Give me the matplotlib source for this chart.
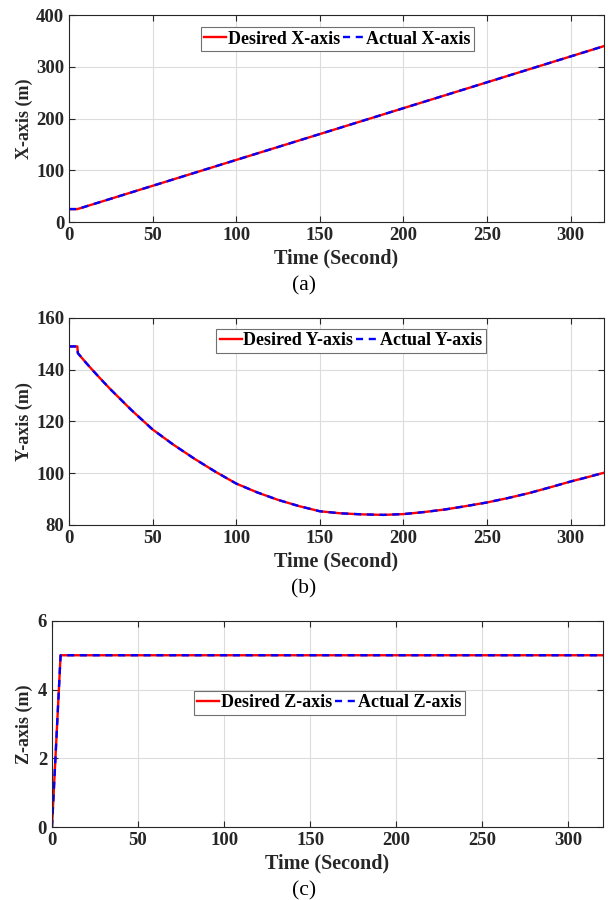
import matplotlib
matplotlib.use("Agg")
import matplotlib.pyplot as plt
import numpy as np

plt.rcParams['font.family'] = ['Liberation Serif', 'DejaVu Serif']
plt.rcParams['font.weight'] = 'bold'

# X position (m)
t_x = [0, 5, 320]
x_desired = [25, 25, 340]
x_actual = [25, 25, 340]

# Y position (m)
t_y = [0, 5, 5.3, 10, 15, 20, 25, 30, 37.5, 50, 62.5, 75, 87.5, 100, 112.5,
       125, 137.5, 150, 162.5, 175, 188, 200, 212.5, 225, 237.5, 250, 262.5,
       275, 287.5, 300, 310, 320]
y_desired = [149, 149, 146.4, 142.8, 139.2, 135.7, 132.3, 129.1, 124.3, 116.9,
             111.0, 105.6, 100.6, 96.0, 92.6, 89.7, 87.3, 85.3, 84.5, 84.1,
             83.9, 84.2, 85.0, 86.0, 87.3, 88.7, 90.4, 92.3, 94.5, 96.8, 98.45,
             100.2]
y_actual = list(y_desired)

# Z position (m)
t_z = [0, 5, 320]
z_desired = [0, 5, 5]
z_actual = [0, 5, 5]

time_ticks = [0, 50, 100, 150, 200, 250, 300]

fig = plt.figure(figsize=(6.08, 9.0), dpi=100)

panels = [
    dict(rect=[0.1135, 0.7533, 0.880, 0.230], t=t_x, des=x_desired, act=x_actual,
         ylim=(0, 400), yticks=[0, 100, 200, 300, 400], ylabel='X-axis (m)',
         name='X-axis', leg=(0.502, 0.884), lab_x=-0.067, cap='(a)'),
    dict(rect=[0.1135, 0.4167, 0.880, 0.230], t=t_y, des=y_desired, act=y_actual,
         ylim=(80, 160), yticks=[80, 100, 120, 140, 160], ylabel='Y-axis (m)',
         name='Y-axis', leg=(0.527, 0.889), lab_x=-0.067, cap='(b)'),
    dict(rect=[0.0855, 0.0811, 0.906, 0.229], t=t_z, des=z_desired, act=z_actual,
         ylim=(0, 6), yticks=[0, 2, 4, 6], ylabel='Z-axis (m)',
         name='Z-axis', leg=(0.504, 0.602), lab_x=-0.034, cap='(c)'),
]

for p in panels:
    ax = fig.add_axes(p['rect'])
    ax.plot(p['t'], p['des'], color='red', lw=1.7, label='Desired ' + p['name'])
    ax.plot(p['t'], p['act'], color='blue', lw=1.7, dashes=(3.0, 2.4),
            label='Actual ' + p['name'])
    ax.set_xlim(0, 320)
    ax.set_ylim(*p['ylim'])
    ax.set_xticks(time_ticks)
    ax.set_yticks(p['yticks'])
    ax.grid(True, color='#dcdcdc', lw=0.8)
    ax.set_axisbelow(True)
    ax.tick_params(direction='in', length=4, width=0.8, top=True, right=True,
                   labelsize=13.5, pad=3.5, colors='#262626')
    for lbl in ax.get_xticklabels() + ax.get_yticklabels():
        lbl.set_fontweight('bold')
    for s in ax.spines.values():
        s.set_color('#262626')
        s.set_linewidth(0.8)
    ax.set_xlabel('Time (Second)', fontsize=14.5, fontweight='bold', labelpad=3,
                  color='#262626')
    ax.set_ylabel(p['ylabel'], fontsize=13, fontweight='bold', color='#262626')
    ax.yaxis.set_label_coords(p['lab_x'], 0.5)
    leg = ax.legend(loc='center', bbox_to_anchor=p['leg'], ncol=2,
                    handlelength=1.2, handletextpad=0.1, columnspacing=0.15,
                    borderpad=0.2, borderaxespad=0, fancybox=False,
                    framealpha=1, edgecolor='#707070',
                    prop={'weight': 'bold', 'size': 13})
    leg.get_frame().set_linewidth(0.8)
    bb = ax.get_position()
    fig.text(0.5, bb.y0 - 0.0705, p['cap'], ha='center', va='center',
             fontsize=15.5, fontweight='normal', transform=fig.transFigure)

fig.savefig('out.png', dpi=100)
